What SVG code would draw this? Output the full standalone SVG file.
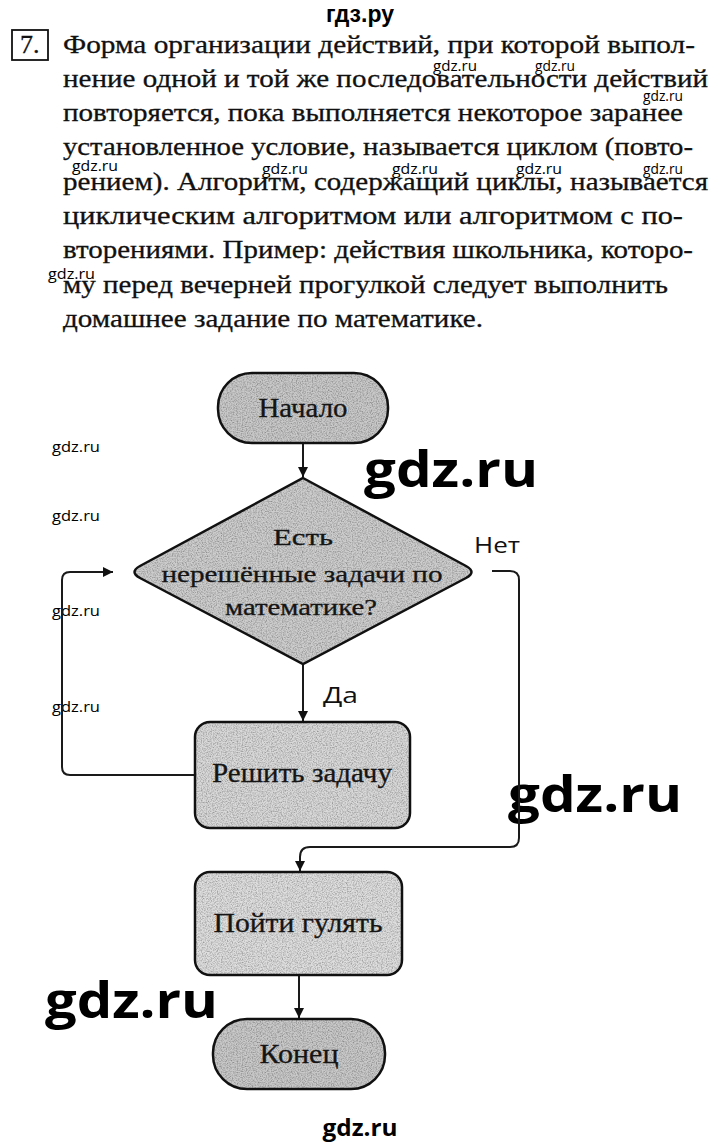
<svg xmlns="http://www.w3.org/2000/svg" width="720" height="1146" viewBox="0 0 720 1146">
<style>
.body{font-family:"Liberation Serif","Times New Roman",serif;font-size:26px;fill:#111;stroke:#111;stroke-width:0.3}
.lbl{font-family:"Liberation Serif","Times New Roman",serif;fill:#151515;stroke:#151515;stroke-width:0.3;text-anchor:middle}
.yn{font-family:"Open Sans","DejaVu Sans",sans-serif;font-size:22px;fill:#111}
.wm{font-family:"Open Sans","DejaVu Sans",sans-serif;font-size:14px;fill:#000}
.big{font-family:"Open Sans","DejaVu Sans",sans-serif;font-weight:bold;font-size:50px;fill:#000}
.shape{stroke:#111;stroke-width:2.5}
.con{fill:none;stroke:#1a1a1a;stroke-width:2}
</style>
<defs>
<marker id="ah" viewBox="0 0 10 10" refX="10" refY="5" markerWidth="10" markerHeight="10" markerUnits="userSpaceOnUse" orient="auto">
<path d="M0,0 L10,5 L0,10 Z" fill="#111"/>
</marker>
<filter id="grain" x="0" y="0" width="1" height="1">
<feTurbulence type="fractalNoise" baseFrequency="0.8" numOctaves="2" seed="5" result="t"/>
<feColorMatrix in="t" type="matrix" values="0 0 0 0 0  0 0 0 0 0  0 0 0 0 0  0 0 0 -1.2 0.75" result="a"/>
<feComposite in="a" in2="SourceAlpha" operator="in" result="dots"/>
<feMerge><feMergeNode in="SourceGraphic"/><feMergeNode in="dots"/></feMerge>
</filter>
</defs>
<rect width="720" height="1146" fill="#fff"/>

<g id="header">
<text x="360" y="22" font-family="Liberation Sans, Arial, sans-serif" font-weight="bold" font-size="23" text-anchor="middle" fill="#000">гдз.ру</text>
</g>

<g id="task-number">
<rect x="12" y="30" width="36" height="30" fill="none" stroke="#111" stroke-width="1.8"/>
<text class="body" x="20" y="53">7.</text>
</g>

<g id="paragraph">
<text class="body" x="63" y="53" textLength="632" lengthAdjust="spacingAndGlyphs">Форма организации действий, при которой выпол-</text>
<text class="body" x="63" y="87" textLength="645" lengthAdjust="spacingAndGlyphs">нение одной и той же последовательности действий</text>
<text class="body" x="63" y="121" textLength="620" lengthAdjust="spacingAndGlyphs">повторяется, пока выполняется некоторое заранее</text>
<text class="body" x="63" y="155" textLength="630" lengthAdjust="spacingAndGlyphs">установленное условие, называется циклом (повто-</text>
<text class="body" x="63" y="190" textLength="645" lengthAdjust="spacingAndGlyphs">рением). Алгоритм, содержащий циклы, называется</text>
<text class="body" x="63" y="224" textLength="620" lengthAdjust="spacingAndGlyphs">циклическим алгоритмом или алгоритмом с по-</text>
<text class="body" x="63" y="258" textLength="630" lengthAdjust="spacingAndGlyphs">вторениями. Пример: действия школьника, которо-</text>
<text class="body" x="63" y="293" textLength="605" lengthAdjust="spacingAndGlyphs">му перед вечерней прогулкой следует выполнить</text>
<text class="body" x="63" y="327" textLength="420" lengthAdjust="spacingAndGlyphs">домашнее задание по математике.</text>
</g>

<g id="watermarks">
<text class="wm" x="433" y="71" textLength="44" lengthAdjust="spacingAndGlyphs">gdz.ru</text>
<text class="wm" x="535" y="71" textLength="40" lengthAdjust="spacingAndGlyphs">gdz.ru</text>
<text class="wm" x="643" y="101" textLength="40" lengthAdjust="spacingAndGlyphs">gdz.ru</text>
<text class="wm" x="72" y="171" textLength="46" lengthAdjust="spacingAndGlyphs">gdz.ru</text>
<text class="wm" x="262" y="174" textLength="46" lengthAdjust="spacingAndGlyphs">gdz.ru</text>
<text class="wm" x="392" y="174" textLength="46" lengthAdjust="spacingAndGlyphs">gdz.ru</text>
<text class="wm" x="516" y="174" textLength="46" lengthAdjust="spacingAndGlyphs">gdz.ru</text>
<text class="wm" x="643" y="174" textLength="40" lengthAdjust="spacingAndGlyphs">gdz.ru</text>
<text class="wm" x="48" y="279" textLength="47" lengthAdjust="spacingAndGlyphs">gdz.ru</text>
<text class="wm" x="52" y="452" textLength="48" lengthAdjust="spacingAndGlyphs">gdz.ru</text>
<text class="wm" x="52" y="521" textLength="48" lengthAdjust="spacingAndGlyphs">gdz.ru</text>
<text class="wm" x="52" y="616" textLength="48" lengthAdjust="spacingAndGlyphs">gdz.ru</text>
<text class="wm" x="52" y="712" textLength="48" lengthAdjust="spacingAndGlyphs">gdz.ru</text>
<text class="big" x="364" y="487" textLength="174" lengthAdjust="spacingAndGlyphs">gdz.ru</text>
<text class="big" x="508" y="812" textLength="174" lengthAdjust="spacingAndGlyphs">gdz.ru</text>
<text class="big" x="45" y="1018" textLength="173" lengthAdjust="spacingAndGlyphs">gdz.ru</text>
<text x="360" y="1136" font-family="Open Sans, DejaVu Sans, sans-serif" font-weight="bold" font-size="24" text-anchor="middle" fill="#000" textLength="75" lengthAdjust="spacingAndGlyphs">gdz.ru</text>
</g>

<g id="connectors">
<path class="con" d="M303,443 V477" marker-end="url(#ah)"/>
<path class="con" d="M303,664 V721" marker-end="url(#ah)"/>
<path class="con" d="M195,775 H70 Q62,775 62,767 V580 Q62,572 70,572 H113" marker-end="url(#ah)"/>
<path class="con" d="M492,571 H510 Q519,571 519,580 V838 Q519,847 510,847 H310 Q300,847 300,857 V871" marker-end="url(#ah)"/>
<path class="con" d="M299,976 V1018" marker-end="url(#ah)"/>
<text class="yn" x="474" y="553" textLength="46" lengthAdjust="spacingAndGlyphs">Нет</text>
<text class="yn" x="323" y="703" textLength="35" lengthAdjust="spacingAndGlyphs">Да</text>
</g>

<g id="start">
<rect x="218" y="373" width="170" height="70" rx="34" fill="#c9c9c9" filter="url(#grain)"/>
<rect class="shape" x="218" y="373" width="170" height="70" rx="34" fill="none"/>
<text class="lbl" x="303" y="417" font-size="27" textLength="89" lengthAdjust="spacingAndGlyphs">Начало</text>
</g>

<g id="decision">
<path d="M303,478 L466,566 Q477,572 466,578 L303,664 L140,578 Q129,572 140,566 Z" fill="#cdcdcd" filter="url(#grain)"/>
<path class="shape" d="M303,478 L466,566 Q477,572 466,578 L303,664 L140,578 Q129,572 140,566 Z" fill="none"/>
<text class="lbl" x="303" y="545" font-size="24" textLength="60" lengthAdjust="spacingAndGlyphs">Есть</text>
<text class="lbl" x="302" y="582" font-size="24" textLength="281" lengthAdjust="spacingAndGlyphs">нерешённые задачи по</text>
<text class="lbl" x="301" y="615" font-size="24" textLength="152" lengthAdjust="spacingAndGlyphs">математике?</text>
</g>

<g id="solve">
<rect x="195" y="722" width="215" height="106" rx="15" fill="#d9d9d9" filter="url(#grain)"/>
<rect class="shape" x="195" y="722" width="215" height="106" rx="15" fill="none"/>
<text class="lbl" x="302" y="782" font-size="27" textLength="180" lengthAdjust="spacingAndGlyphs">Решить задачу</text>
</g>

<g id="walk">
<rect x="195" y="872" width="207" height="103" rx="15" fill="#dedede" filter="url(#grain)"/>
<rect class="shape" x="195" y="872" width="207" height="103" rx="15" fill="none"/>
<text class="lbl" x="298" y="932" font-size="27" textLength="169" lengthAdjust="spacingAndGlyphs">Пойти гулять</text>
</g>

<g id="end">
<rect x="213" y="1019" width="172" height="70" rx="34" fill="#c9c9c9" filter="url(#grain)"/>
<rect class="shape" x="213" y="1019" width="172" height="70" rx="34" fill="none"/>
<text class="lbl" x="299" y="1063" font-size="27" textLength="79" lengthAdjust="spacingAndGlyphs">Конец</text>
</g>
</svg>
